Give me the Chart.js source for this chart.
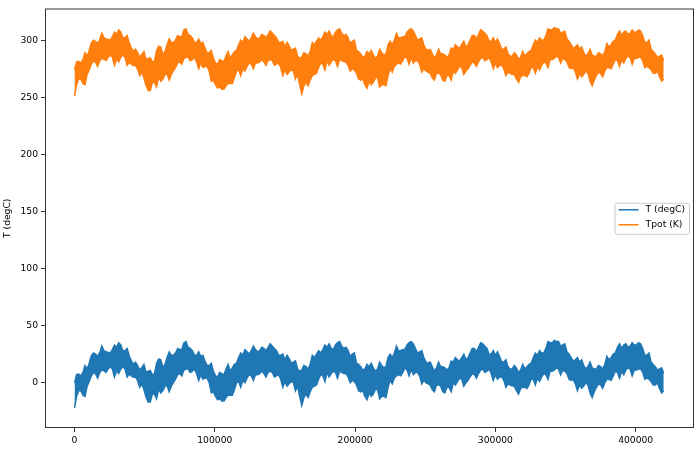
<!DOCTYPE html>
<html>
<head>
<meta charset="utf-8">
<script src="https://cdn.jsdelivr.net/npm/chart.js@4"></script>
<style>
  html, body { margin: 0; padding: 0; background: #fff; }
  #wrap { width: 700px; height: 451px; }
</style>
</head>
<body>
<div id="wrap"><canvas id="chart" width="700" height="451"></canvas></div>
<script>
// one sample every 1500 rows: upper and lower edge of the noisy band
const step = 1500;

const tHigh = [
  0, 7, 7.5, 6, 9, 15, 12, 17, 23.6, 26, 25, 23, 26.5, 32, 28, 27, 26.5, 26, 29, 33,
  31, 35, 33, 28, 28, 30, 23.6, 19, 16.3, 18, 15, 11, 13.4, 16, 9, 10, 10.5, 7, 7.6, 17,
  20.7, 20, 13.4, 16, 22, 27, 24, 24, 26, 30, 29, 29, 35, 36, 31, 30, 28, 24, 24, 27,
  23, 24, 19, 15, 15, 17, 10, 6, 5, 9, 8, 7, 12, 16, 10, 13, 16, 17, 22, 26,
  24, 29, 27, 25, 28, 32, 29, 27, 28, 31, 30, 28, 31, 34, 32, 30, 28, 24, 24, 25,
  20, 24, 21, 17, 18, 19, 12, 10, 11, 15, 14, 12, 16, 24, 22, 25, 28, 26, 29, 33,
  31, 34, 30, 29, 33, 35, 36, 32, 30, 31, 28, 23, 25, 26, 17, 16, 14, 11, 12, 16,
  14, 17, 13, 10, 12, 18, 15, 13, 14, 22, 25, 22, 26, 32, 28, 28, 29, 29, 33, 35,
  36, 34, 30, 26, 27, 28, 22, 18, 17, 18, 14, 10, 13, 18, 14, 14, 13, 11, 13, 19,
  18, 22, 20, 19, 22, 25, 20, 22, 26, 30, 30, 27, 31, 35, 34, 32, 30, 25, 25, 28,
  24, 27, 23, 18, 18, 20, 14, 12, 12, 15, 13, 9, 11, 16, 12, 14, 16, 17, 22, 26,
  24, 28, 26, 26, 30, 36, 35, 35, 37, 36, 36, 32, 33, 34, 27, 25, 22, 19, 20, 22,
  18, 20, 15, 12, 14, 18, 13, 12, 12, 15, 14, 12, 16, 23, 20, 22, 25, 26, 31, 34,
  30, 33, 34, 31, 32, 35, 33, 33, 35, 34, 30, 24, 24, 26, 18, 16, 14, 11, 12, 13,
  8];

const tLow = [
  -22, -12, -7, -7, -11, -12, -3, 1, 6, 9, 7.6, 4, 9, 11, 10.5, 9, 12, 14, 12, 5,
  10.5, 8, 12, 14, 12, 5, 7.6, 6, 4.7, 5, 1.7, -4, -1.2, -6, -12.8, -17, -17, -10, -10, -14,
  -5.5, -9, -7, -3, -2.6, -8, -3, 0, 3, 7, 8, 6, 11, 12, 12, 9, 10, 12, 8, 2,
  7, 3, 4, 4, 0, -9, -8, -12, -15, -14, -16, -16, -13, -11, -11, -11, -6, 0, 1, -4,
  2, 0, 4, 7, 6, 2, 7, 7, 8, 10, 8, 5, 9, 10, 9, 5, 6, 7, 3, -4,
  1, -3, -1, 1, 0, -7, -3, -12, -20, -13, -10, -13, -8, -4, -3, -2, 3, 7, 6, 1,
  9, 5, 8, 10, 9, 4, 10, 9, 8, 8, 5, 0, 2, 1, -2, -7, -8, -7, -12, -15,
  -9, -12, -10, -6, -6, -14, -12, -12, -13, -4, 2, -1, 4, 6, 7, 6, 9, 13, 11, 6,
  12, 7, 9, 9, 6, -1, 2, 0, -1, -2, -6, -8, -2, -2, -3, -8, -9, -4, -4, -8,
  0, -2, 1, 4, 3, -3, 0, 2, 5, 8, 7, 4, 8, 11, 12, 9, 10, 12, 8, 2,
  7, 3, 5, 5, 2, -4, -1, -2, -3, -3, -7, -10, -5, -4, -4, -5, -2, 3, 3, -2,
  4, 1, 5, 8, 7, 3, 10, 10, 11, 13, 12, 7, 11, 10, 8, 3, 2, 3, -1, -7,
  -2, -5, -3, 0, -2, -9, -13, -8, -4, -1, -2, -5, 0, 3, 3, 2, 6, 10, 9, 4,
  10, 7, 11, 13, 12, 6, 11, 11, 12, 12, 9, 3, 4, 3, 1, -2, -2, 0, -5, -9,
  -7];

const tpotHigh = [
  274, 281, 281.5, 280, 283, 289, 286, 291, 297.6, 300, 299, 297, 300.5, 306, 302, 301, 300.5, 300, 303, 307,
  305, 309, 307, 302, 302, 304, 297.6, 293, 290.3, 292, 289, 285, 287.4, 290, 283, 284, 284.5, 281, 281.6, 291,
  294.7, 294, 287.4, 290, 296, 301, 298, 298, 300, 304, 303, 303, 309, 310, 305, 304, 302, 298, 298, 301,
  297, 298, 293, 289, 289, 291, 284, 280, 279, 283, 282, 281, 286, 290, 284, 287, 290, 291, 296, 300,
  298, 303, 301, 299, 302, 306, 303, 301, 302, 305, 304, 302, 305, 308, 306, 304, 302, 298, 298, 299,
  294, 298, 295, 291, 292, 293, 286, 284, 285, 289, 288, 286, 290, 298, 296, 299, 302, 300, 303, 307,
  305, 308, 304, 303, 307, 309, 310, 306, 304, 305, 302, 297, 299, 300, 291, 290, 288, 285, 286, 290,
  288, 291, 287, 284, 286, 292, 289, 287, 288, 296, 299, 296, 300, 306, 302, 302, 303, 303, 307, 309,
  310, 308, 304, 300, 301, 302, 296, 292, 291, 292, 288, 284, 287, 292, 288, 288, 287, 285, 287, 293,
  292, 296, 294, 293, 296, 299, 294, 296, 300, 304, 304, 301, 305, 309, 308, 306, 304, 299, 299, 302,
  298, 301, 297, 292, 292, 294, 288, 286, 286, 289, 287, 283, 285, 290, 286, 288, 290, 291, 296, 300,
  298, 302, 300, 300, 304, 310, 309, 309, 311, 310, 310, 306, 307, 308, 301, 299, 296, 293, 294, 296,
  292, 294, 289, 286, 288, 292, 287, 286, 286, 289, 288, 286, 290, 297, 294, 296, 299, 300, 305, 308,
  304, 307, 308, 305, 306, 309, 307, 307, 309, 308, 304, 298, 298, 300, 292, 290, 288, 285, 286, 287,
  282];

const tpotLow = [
  251, 261, 266, 266, 262, 261, 270, 274, 279, 282, 280.6, 277, 282, 284, 283.5, 282, 285, 287, 285, 278,
  283.5, 281, 285, 287, 285, 278, 280.6, 279, 277.7, 278, 274.7, 269, 271.8, 267, 260.2, 256, 256, 263, 263, 259,
  267.5, 264, 266, 270, 270.4, 265, 270, 273, 276, 280, 281, 279, 284, 285, 285, 282, 283, 285, 281, 275,
  280, 276, 277, 277, 273, 264, 265, 261, 258, 259, 257, 257, 260, 262, 262, 262, 267, 273, 274, 269,
  275, 273, 277, 280, 279, 275, 280, 280, 281, 283, 281, 278, 282, 283, 282, 278, 279, 280, 276, 269,
  274, 270, 272, 274, 273, 266, 270, 261, 253, 260, 263, 260, 265, 269, 270, 271, 276, 280, 279, 274,
  282, 278, 281, 283, 282, 277, 283, 282, 281, 281, 278, 273, 275, 274, 271, 266, 265, 266, 261, 258,
  264, 261, 263, 267, 267, 259, 261, 261, 260, 269, 275, 272, 277, 279, 280, 279, 282, 286, 284, 279,
  285, 280, 282, 282, 279, 272, 275, 273, 272, 271, 267, 265, 271, 271, 270, 265, 264, 269, 269, 265,
  273, 271, 274, 277, 276, 270, 273, 275, 278, 281, 280, 277, 281, 284, 285, 282, 283, 285, 281, 275,
  280, 276, 278, 278, 275, 269, 272, 271, 270, 270, 266, 263, 268, 269, 269, 268, 271, 276, 276, 271,
  277, 274, 278, 281, 280, 276, 283, 283, 284, 286, 285, 280, 284, 283, 281, 276, 275, 276, 272, 266,
  271, 268, 270, 273, 271, 264, 260, 265, 269, 272, 271, 268, 273, 276, 276, 275, 279, 283, 282, 277,
  283, 280, 284, 286, 285, 279, 284, 284, 285, 285, 282, 276, 277, 276, 274, 271, 271, 273, 268, 264,
  266];

const xTicks = [0, 100000, 200000, 300000, 400000];
const yTicks = [0, 50, 100, 150, 200, 250, 300];

const BLUE = '#1f77b4';
const ORANGE = '#ff7f0e';
const FONT = 'DejaVu Sans';

function pts(vals) {
  return vals.map((v, i) => ({ x: i * step, y: v }));
}

const frame = {
  id: 'frame',
  afterDatasetsDraw(chart) {
    const a = chart.chartArea, c = chart.ctx;
    c.save();
    c.strokeStyle = '#333';
    c.lineWidth = 1;
    c.strokeRect(a.left + 0.5, a.top + 0.5, a.right - a.left - 1, a.bottom - a.top - 1);
    c.restore();
  }
};

const legendBox = {
  id: 'legendBox',
  afterDraw(chart) {
    const a = chart.chartArea, c = chart.ctx;
    const items = chart.data.datasets.filter(d => d.inLegend);
    c.save();
    c.font = '9.2px "' + FONT + '"';
    const tw = Math.max(...items.map(d => c.measureText(d.label).width));
    const w = 3 + 21 + 7 + tw + 4, h = 31;
    const x = a.right - 5 - w, y = (a.top + a.bottom) / 2 - h / 2;
    c.beginPath();
    c.roundRect(x + 0.5, y + 0.5, w, h, 2);
    c.fillStyle = 'rgba(255,255,255,0.8)';
    c.fill();
    c.strokeStyle = '#ccc';
    c.lineWidth = 1;
    c.stroke();
    items.forEach((d, i) => {
      const ly = y + 7 + i * 15;
      c.strokeStyle = d.borderColor;
      c.lineWidth = 1.5;
      c.beginPath();
      c.moveTo(x + 4, ly);
      c.lineTo(x + 24, ly);
      c.stroke();
      c.fillStyle = '#000';
      c.textBaseline = 'middle';
      c.fillText(d.label, x + 31, ly);
    });
    c.restore();
  }
};

const line = (label, vals, color, fill, inLegend) => ({
  label: label,
  data: pts(vals),
  borderColor: color,
  backgroundColor: color,
  borderWidth: 1.5,
  pointRadius: 0,
  tension: 0,
  fill: fill,
  inLegend: inLegend
});

new Chart(document.getElementById('chart'), {
  type: 'line',
  data: {
    datasets: [
      line('T low', tLow, BLUE, false, false),
      line('T (degC)', tHigh, BLUE, '-1', true),
      line('Tpot low', tpotLow, ORANGE, false, false),
      line('Tpot (K)', tpotHigh, ORANGE, '-1', true)
    ]
  },
  options: {
    responsive: false,
    animation: false,
    devicePixelRatio: 1,
    layout: { padding: { top: 7, right: 6, left: 0, bottom: 0 } },
    plugins: { legend: { display: false }, tooltip: { enabled: false } },
    scales: {
      x: {
        type: 'linear',
        min: -21028,
        max: 441578,
        afterFit: s => { s.height = 23; },
        afterBuildTicks: s => { s.ticks = xTicks.map(v => ({ value: v })); },
        ticks: {
          font: { family: FONT, size: 9.2 },
          color: '#000',
          padding: 3,
          maxRotation: 0,
          callback: v => String(v)
        },
        grid: { drawOnChartArea: false, drawTicks: true, tickLength: 4, tickColor: '#333' },
        border: { display: false }
      },
      y: {
        min: -39.7,
        max: 327.7,
        afterFit: s => { s.width = 45; },
        afterBuildTicks: s => { s.ticks = yTicks.map(v => ({ value: v })); },
        ticks: {
          font: { family: FONT, size: 9.2 },
          color: '#000',
          padding: 3,
          callback: v => String(v)
        },
        title: {
          display: true,
          text: 'T (degC)',
          font: { family: FONT, size: 9.2 },
          color: '#000',
          padding: { top: 2, bottom: 0 }
        },
        grid: { drawOnChartArea: false, drawTicks: true, tickLength: 4, tickColor: '#333' },
        border: { display: false }
      }
    }
  },
  plugins: [frame, legendBox]
});
</script>
</body>
</html>
